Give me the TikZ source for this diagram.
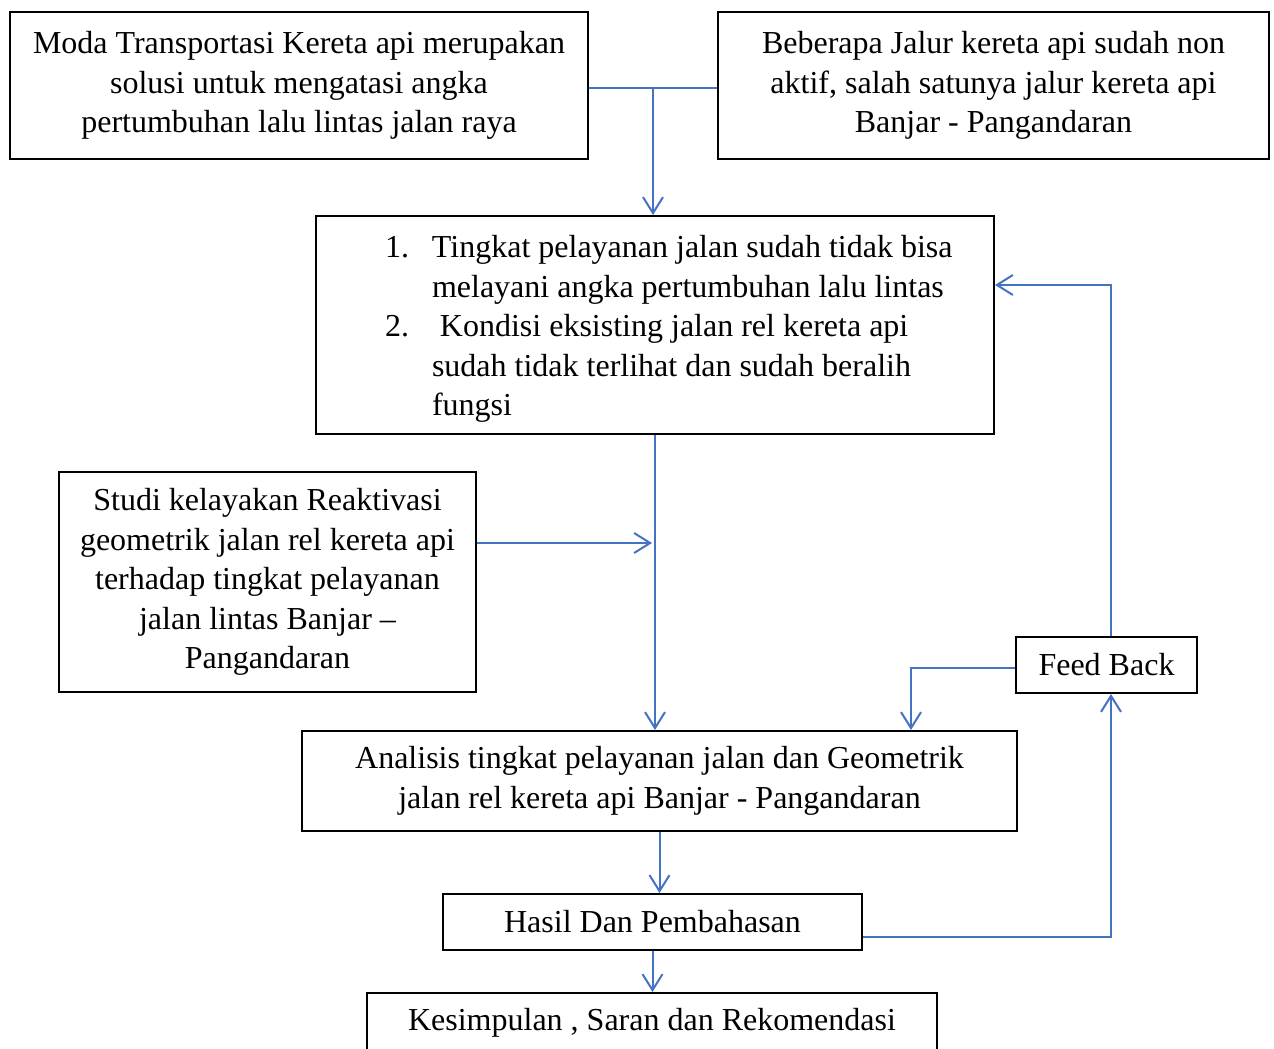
\documentclass[tikz,border=0pt]{standalone}
\usepackage{fontspec}
\setmainfont{Liberation Serif}
\usetikzlibrary{arrows.meta}
\definecolor{flowblue}{HTML}{4472C4}
\begin{document}
\begin{tikzpicture}[x=0.5pt,y=0.5pt]
\tikzstyle{every node}+=[inner sep=0pt, font=\fontsize{16}{19.75}\selectfont]
\tikzstyle{box}=[draw=black, line width=1pt, rectangle, align=center]
\tikzstyle{link}=[draw=flowblue, line width=1pt]
\tikzstyle{arrow}=[link, -{Straight Barb[length=8pt,width=10pt,line width=1pt]}]
\useasboundingbox (0,0) rectangle (1274,-1049);
\node [box, minimum width=289pt, minimum height=73.5pt] (moda) at (299,-85.5)
  {Moda Transportasi Kereta api merupakan\\ solusi untuk mengatasi angka\\ pertumbuhan lalu lintas jalan raya};
\node [box, minimum width=275.5pt, minimum height=73.5pt] (jalur) at (993.5,-85.5)
  {Beberapa Jalur kereta api sudah non\\ aktif, salah satunya jalur kereta api\\ Banjar - Pangandaran};
\node [box, align=left, text width=339pt, minimum height=109pt] (tingkat) at (655,-325)
  {\spaceskip=0pt\xspaceskip=0pt
  \hspace*{34.5pt}\raisebox{-2pt}[\height][\depth]{\begin{tabular}{@{}p{23.5pt}@{}l@{}}
  1. & Tingkat pelayanan jalan sudah tidak bisa\\
     & melayani angka pertumbuhan lalu lintas\\
  2. & \ Kondisi eksisting jalan rel kereta api\\
     & sudah tidak terlihat dan sudah beralih\\
     & fungsi
  \end{tabular}}};
\node [box, minimum width=208.5pt, minimum height=110pt] (studi) at (267.5,-582)
  {Studi kelayakan Reaktivasi\\ geometrik jalan rel kereta api\\ terhadap tingkat pelayanan\\ jalan lintas Banjar --\\ Pangandaran};
\node [box, minimum width=357.5pt, minimum height=50pt] (analisis) at (659.5,-781)
  {Analisis tingkat pelayanan jalan dan Geometrik\\ jalan rel kereta api Banjar - Pangandaran};
\node [box, minimum width=90.5pt, minimum height=28pt] (feedback) at (1106.5,-665) {Feed Back};
\node [box, minimum width=209.5pt, minimum height=28pt] (hasil) at (652.5,-922) {Hasil Dan Pembahasan};
\node [box, minimum width=285pt, minimum height=30pt] (kesimpulan) at (652,-1023)
  {Kesimpulan , Saran dan Rekomendasi};
\coordinate (top) at (653,-88);
\coordinate (join) at (655,-543);
\coordinate (fbup) at (1111,-285);
\coordinate (fbleft) at (911,-668);
\coordinate (fbdown) at (1111,-937);
\draw [link] (moda.east |- top) -- (jalur.west |- top);
\draw [arrow] (top) -- (top |- tingkat.north);
\draw [arrow] (tingkat.south) -- (tingkat.south |- analisis.north);
\draw [arrow] (studi.east |- join) -- ([xshift=-1.5pt]join);
\draw [arrow] (analisis.south) -- (analisis.south |- hasil.north);
\draw [arrow] (hasil.south) -- (hasil.south |- kesimpulan.north);
\draw [arrow] (hasil.east |- fbdown) -- (fbdown) -- (fbdown |- feedback.south);
\draw [arrow] (feedback.west |- fbleft) -- (fbleft) -- (fbleft |- analisis.north);
\draw [arrow] (feedback.north -| fbup) -- (fbup) -- (tingkat.east |- fbup);
\end{tikzpicture}
\end{document}
